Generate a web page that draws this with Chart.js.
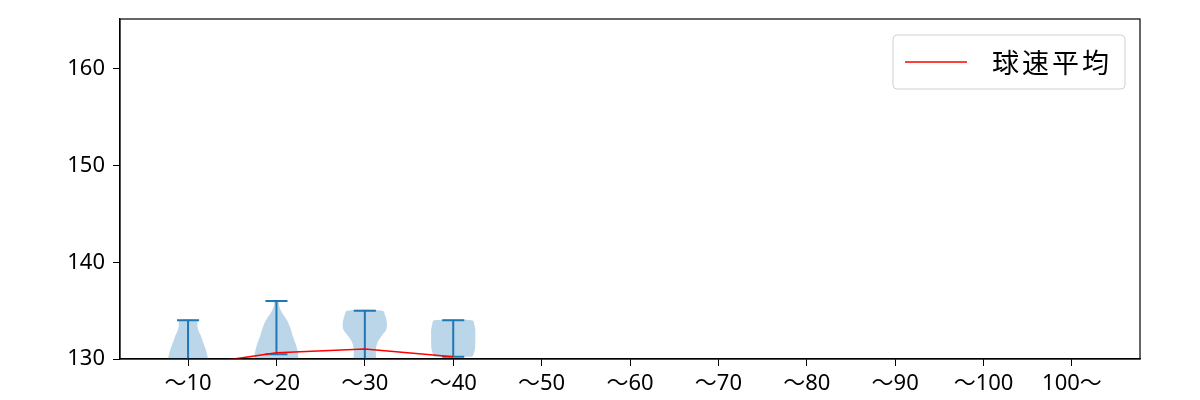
<!DOCTYPE html>
<html>
<head>
<meta charset="utf-8">
<script src="https://cdn.jsdelivr.net/npm/chart.js@4/dist/chart.umd.min.js"></script>
<style>
  html, body { margin: 0; padding: 0; background: #fff; }
  #wrap { width: 1200px; height: 400px; }
</style>
</head>
<body>
<div id="wrap"><canvas id="chart"></canvas></div>
<script>
// categories and tick labels
const categories = ['～10', '～20', '～30', '～40', '～50', '～60', '～70', '～80', '～90', '～100', '100～'];
const yTicks = [130, 140, 150, 160];

// mean speed per category (only first four have data)
const meanLabel = '球速平均';
const meanSpeed = [129.3, 130.65, 131.03, 130.24];

// whisker extremes
const maxSpeed = [134, 136, 135, 134];
const minSpeed = [128, 130.5, 128.5, 130.24];

// violin outlines: speed levels and half widths (category units)
const violinLevels = [
  [129, 129.5, 130, 130.5, 131, 131.5, 132, 132.5, 133, 133.5, 134],
  [129.5, 130, 130.5, 131, 131.5, 132, 132.5, 133, 133.5, 134, 134.5, 135, 135.5, 136],
  [129.5, 130, 130.5, 131, 131.5, 132, 132.5, 133, 133.5, 134, 134.5, 135],
  [130.24, 130.5, 131, 131.5, 132, 132.5, 133, 133.5, 134]
];
const violinHalfWidths = [
  [0.24, 0.235, 0.227, 0.215, 0.2, 0.18, 0.16, 0.14, 0.115, 0.105, 0.1],
  [0.24, 0.245, 0.245, 0.235, 0.22, 0.2, 0.18, 0.165, 0.145, 0.12, 0.085, 0.05, 0.03, 0.02],
  [0.14, 0.13, 0.125, 0.125, 0.135, 0.16, 0.2, 0.24, 0.25, 0.245, 0.23, 0.2],
  [0.215, 0.23, 0.245, 0.25, 0.25, 0.25, 0.25, 0.24, 0.215]
];

const blue = '#1f77b4';
const capHalf = 0.125;
const font = "'Noto Sans', 'Noto Sans CJK JP', sans-serif";
const cjkFont = "'Noto Sans CJK JP', sans-serif";

// build violin polygons
const violinSets = violinLevels.map((levels, i) => {
  const cx = i + 1;
  const hw = violinHalfWidths[i];
  const right = levels.map((y, k) => ({ x: cx + hw[k], y }));
  const left = levels.map((y, k) => ({ x: cx - hw[k], y })).reverse();
  return {
    type: 'line',
    data: [...right, ...left, right[0]],
    fill: 'shape',
    backgroundColor: 'rgba(31,119,180,0.3)',
    borderWidth: 0,
    borderColor: 'rgba(0,0,0,0)',
    pointRadius: 0,
    tension: 0.35,
    order: 3
  };
});

// whiskers and caps
const whiskerPts = [];
maxSpeed.forEach((mx, i) => {
  const cx = i + 1;
  whiskerPts.push({ x: cx, y: minSpeed[i] }, { x: cx, y: mx }, { x: cx, y: null });
  whiskerPts.push({ x: cx - capHalf, y: mx }, { x: cx + capHalf, y: mx }, { x: cx, y: null });
  whiskerPts.push({ x: cx - capHalf, y: minSpeed[i] }, { x: cx + capHalf, y: minSpeed[i] }, { x: cx, y: null });
});

const meanPts = meanSpeed.map((v, i) => ({ x: i + 1, y: v }));

// legend drawn inside the axes, plus the full frame
const framePlugin = {
  id: 'frame',
  afterDatasetsDraw(chart) {
    const { ctx, chartArea: a } = chart;
    ctx.save();
    ctx.strokeStyle = '#000';
    ctx.lineWidth = 1.2;
    ctx.strokeRect(a.left, a.top, a.right - a.left, a.bottom - a.top);

    ctx.font = '27px ' + cjkFont;
    ctx.letterSpacing = '3px';
    const tw = ctx.measureText(meanLabel).width;
    const w = tw + 112, h = 54;
    const x = a.right - 15 - w, y = a.top + 16;
    ctx.beginPath();
    ctx.roundRect(x, y, w, h, 4);
    ctx.fillStyle = 'rgba(255,255,255,0.8)';
    ctx.fill();
    ctx.strokeStyle = '#d0d0d0';
    ctx.lineWidth = 1;
    ctx.stroke();
    ctx.beginPath();
    ctx.moveTo(x + 12, y + h / 2);
    ctx.lineTo(x + 74, y + h / 2);
    ctx.strokeStyle = 'red';
    ctx.lineWidth = 1.6;
    ctx.stroke();
    ctx.fillStyle = '#000';
    ctx.textBaseline = 'middle';
    ctx.fillText(meanLabel, x + 99, y + h / 2 + 1);
    ctx.restore();
  }
};

new Chart(document.getElementById('chart'), {
  type: 'line',
  data: {
    datasets: [
      ...violinSets,
      {
        label: 'whiskers',
        data: whiskerPts,
        borderColor: blue,
        borderWidth: 2,
        pointRadius: 0,
        spanGaps: false,
        order: 2
      },
      {
        label: meanLabel,
        data: meanPts,
        borderColor: 'red',
        borderWidth: 1.6,
        pointRadius: 0,
        tension: 0,
        order: 1
      }
    ]
  },
  options: {
    responsive: true,
    maintainAspectRatio: false,
    animation: false,
    layout: { padding: { top: 19, right: 60, left: 0, bottom: 0 } },
    plugins: {
      legend: { display: false },
      tooltip: { enabled: false }
    },
    scales: {
      x: {
        type: 'linear',
        min: 0.23,
        max: 11.77,
        afterBuildTicks: (s) => { s.ticks = categories.map((c, i) => ({ value: i + 1 })); },
        afterFit: (s) => { s.height = 41; s.paddingLeft = 0; s.paddingRight = 0; },
        grid: { display: true, drawOnChartArea: false, drawTicks: true, tickLength: 7, color: '#000' },
        border: { display: true, color: '#000', width: 1.2 },
        ticks: {
          color: '#000',
          font: { size: 22, family: font },
          padding: 5,
          maxRotation: 0,
          autoSkip: false,
          callback: (v) => categories[Math.round(v) - 1]
        }
      },
      y: {
        type: 'linear',
        min: 130,
        max: 165.17,
        afterBuildTicks: (s) => { s.ticks = yTicks.map(v => ({ value: v })); },
        afterFit: (s) => { s.width = 120; s.paddingTop = 0; s.paddingBottom = 0; },
        grid: { display: true, drawOnChartArea: false, drawTicks: true, tickLength: 7, color: '#000' },
        border: { display: true, color: '#000', width: 1.2 },
        ticks: {
          color: '#000',
          font: { size: 22, family: font },
          padding: 8
        }
      }
    }
  },
  plugins: [framePlugin]
});
</script>
</body>
</html>
